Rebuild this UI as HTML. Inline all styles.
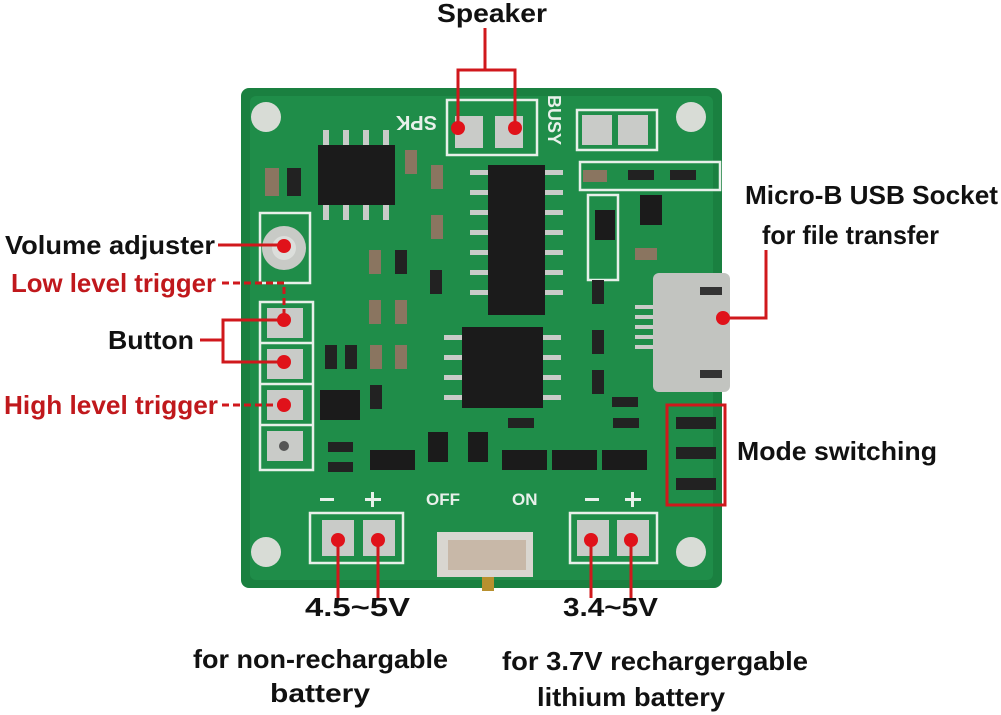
<!DOCTYPE html>
<html><head><meta charset="utf-8"><style>
html,body{margin:0;padding:0;background:#fff;}
svg{display:block;}
text{font-family:"Liberation Sans",sans-serif;font-weight:bold;}
</style></head><body>
<svg width="1001" height="715" viewBox="0 0 1001 715" xmlns="http://www.w3.org/2000/svg">
<rect width="1001" height="715" fill="#fff"/>
<!-- board -->
<rect x="241" y="88" width="481" height="500" rx="8" fill="#1a8040"/>
<rect x="250" y="96" width="463" height="484" rx="6" fill="#239650" opacity="0.6"/>
<g fill="#d8dcd6">
<circle cx="266" cy="117" r="15"/><circle cx="691" cy="117" r="15"/>
<circle cx="266" cy="552" r="15"/><circle cx="691" cy="552" r="15"/>
</g>
<g fill="none" stroke="#e8f0ea" stroke-width="2.5">
<rect x="447" y="100" width="90" height="55"/>
<rect x="577" y="110" width="80" height="40"/>
<rect x="260" y="302" width="53" height="168"/>
<line x1="260" y1="343" x2="313" y2="343"/><line x1="260" y1="384" x2="313" y2="384"/><line x1="260" y1="425" x2="313" y2="425"/>
<rect x="310" y="513" width="93" height="50"/>
<rect x="570" y="513" width="87" height="50"/>
<rect x="260" y="213" width="50" height="70"/>
<rect x="580" y="162" width="140" height="28"/>
<rect x="588" y="195" width="30" height="85"/>
</g>
<text x="373" y="130" font-size="20" fill="#e8f0ea" transform="rotate(180 405 123)">SPK</text>
<text x="543" y="110" font-size="18" fill="#e8f0ea" transform="rotate(90 553 105)">BUSY</text>
<text x="426" y="505" font-size="17" fill="#e8f0ea">OFF</text>
<text x="512" y="505" font-size="17" fill="#e8f0ea">ON</text>
<g fill="#e8f0ea"><rect x="320" y="498" width="14" height="3"/><rect x="365" y="498" width="16" height="3"/><rect x="371" y="492" width="3" height="15"/><rect x="585" y="498" width="14" height="3"/><rect x="625" y="498" width="16" height="3"/><rect x="631" y="492" width="3" height="15"/></g>
<g fill="#c9cbc8">
<rect x="455" y="116" width="28" height="32"/><rect x="495" y="116" width="28" height="32"/>
<rect x="267" y="308" width="36" height="30"/><rect x="267" y="349" width="36" height="30"/>
<rect x="267" y="390" width="36" height="30"/><rect x="267" y="431" width="36" height="30"/>
<rect x="322" y="520" width="32" height="36"/><rect x="363" y="520" width="32" height="36"/>
<rect x="577" y="520" width="32" height="36"/><rect x="617" y="520" width="32" height="36"/>
<rect x="582" y="115" width="30" height="30"/><rect x="618" y="115" width="30" height="30"/>
</g>
<circle cx="284" cy="446" r="5" fill="#555"/>
<circle cx="284" cy="248" r="22" fill="#c8cac6"/><circle cx="284" cy="248" r="12" fill="#dcdedb"/>
<g fill="#1b1b1b">
<rect x="318" y="145" width="77" height="60"/>
<rect x="488" y="165" width="57" height="150"/>
<rect x="462" y="327" width="81" height="81"/>
<rect x="320" y="390" width="40" height="30"/>
<rect x="370" y="450" width="45" height="20"/><rect x="502" y="450" width="45" height="20"/>
<rect x="552" y="450" width="45" height="20"/><rect x="602" y="450" width="45" height="20"/>
<rect x="428" y="432" width="20" height="30"/><rect x="468" y="432" width="20" height="30"/>
<rect x="595" y="210" width="20" height="30"/><rect x="640" y="195" width="22" height="30"/>
</g>
<g fill="#c9cbc8">
<rect x="323" y="130" width="6" height="15"/><rect x="343" y="130" width="6" height="15"/><rect x="363" y="130" width="6" height="15"/><rect x="383" y="130" width="6" height="15"/>
<rect x="323" y="205" width="6" height="15"/><rect x="343" y="205" width="6" height="15"/><rect x="363" y="205" width="6" height="15"/><rect x="383" y="205" width="6" height="15"/>
<rect x="470" y="170" width="18" height="5"/><rect x="470" y="190" width="18" height="5"/><rect x="470" y="210" width="18" height="5"/><rect x="470" y="230" width="18" height="5"/><rect x="470" y="250" width="18" height="5"/><rect x="470" y="270" width="18" height="5"/><rect x="470" y="290" width="18" height="5"/>
<rect x="545" y="170" width="18" height="5"/><rect x="545" y="190" width="18" height="5"/><rect x="545" y="210" width="18" height="5"/><rect x="545" y="230" width="18" height="5"/><rect x="545" y="250" width="18" height="5"/><rect x="545" y="270" width="18" height="5"/><rect x="545" y="290" width="18" height="5"/>
<rect x="444" y="335" width="18" height="5"/><rect x="444" y="355" width="18" height="5"/><rect x="444" y="375" width="18" height="5"/><rect x="444" y="395" width="18" height="5"/>
<rect x="543" y="335" width="18" height="5"/><rect x="543" y="355" width="18" height="5"/><rect x="543" y="375" width="18" height="5"/><rect x="543" y="395" width="18" height="5"/>
</g>
<g fill="#8a7560">
<rect x="265" y="168" width="14" height="28"/><rect x="405" y="150" width="12" height="24"/><rect x="431" y="165" width="12" height="24"/><rect x="431" y="215" width="12" height="24"/>
<rect x="369" y="250" width="12" height="24"/><rect x="369" y="300" width="12" height="24"/><rect x="395" y="300" width="12" height="24"/><rect x="370" y="345" width="12" height="24"/><rect x="395" y="345" width="12" height="24"/>
<rect x="635" y="248" width="22" height="12"/><rect x="583" y="170" width="24" height="12"/>
</g>
<g fill="#222">
<rect x="287" y="168" width="14" height="28"/><rect x="395" y="250" width="12" height="24"/><rect x="430" y="270" width="12" height="24"/>
<rect x="325" y="345" width="12" height="24"/><rect x="345" y="345" width="12" height="24"/><rect x="370" y="385" width="12" height="24"/>
<rect x="328" y="442" width="25" height="10"/><rect x="328" y="462" width="25" height="10"/>
<rect x="628" y="170" width="26" height="10"/><rect x="670" y="170" width="26" height="10"/>
<rect x="592" y="280" width="12" height="24"/><rect x="592" y="330" width="12" height="24"/><rect x="592" y="370" width="12" height="24"/>
<rect x="612" y="397" width="26" height="10"/><rect x="508" y="418" width="26" height="10"/><rect x="613" y="418" width="26" height="10"/>
<rect x="676" y="417" width="40" height="12"/><rect x="676" y="447" width="40" height="12"/><rect x="676" y="478" width="40" height="12"/>
</g>
<rect x="653" y="273" width="77" height="119" rx="6" fill="#c2c4c0"/>
<rect x="700" y="287" width="22" height="8" fill="#333"/><rect x="700" y="370" width="22" height="8" fill="#333"/>
<g fill="#c9cbc8"><rect x="635" y="305" width="18" height="4"/><rect x="635" y="315" width="18" height="4"/><rect x="635" y="325" width="18" height="4"/><rect x="635" y="335" width="18" height="4"/><rect x="635" y="345" width="18" height="4"/></g>
<rect x="437" y="532" width="96" height="45" fill="#d9d6d0"/>
<rect x="448" y="540" width="78" height="30" fill="#c8b8a8"/>
<rect x="482" y="577" width="12" height="14" fill="#b8902f"/>
<g stroke="#d0181c" stroke-width="3" fill="none">
<path d="M485 28 V70 M458 128 V70 H515 V128"/>
<path d="M218 245 H284"/>
<path d="M222 283 H284 V320" stroke-dasharray="7 4"/>
<path d="M200 340 H223 M284 320 H223 V362 H284"/>
<path d="M222 405 H284" stroke-dasharray="7 4"/>
<path d="M723 318 H766 V250"/>
<path d="M338 540 V598 M378 540 V598 M591 540 V598 M631 540 V598"/>
<rect x="667" y="405" width="58" height="100"/>
</g>
<g fill="#e0121a">
<circle cx="458" cy="128" r="7"/><circle cx="515" cy="128" r="7"/>
<circle cx="284" cy="246" r="7"/><circle cx="284" cy="320" r="7"/><circle cx="284" cy="362" r="7"/><circle cx="284" cy="405" r="7"/>
<circle cx="723" cy="318" r="7"/>
<circle cx="338" cy="540" r="7"/><circle cx="378" cy="540" r="7"/><circle cx="591" cy="540" r="7"/><circle cx="631" cy="540" r="7"/>
</g>
<g font-size="26" lengthAdjust="spacingAndGlyphs">
<text x="437" y="22" fill="#111" textLength="110" lengthAdjust="spacingAndGlyphs">Speaker</text>
<text x="5" y="254" fill="#111" textLength="210" lengthAdjust="spacingAndGlyphs">Volume adjuster</text>
<text x="11" y="292" fill="#c0181c" textLength="205" lengthAdjust="spacingAndGlyphs">Low level trigger</text>
<text x="108" y="349" fill="#111" textLength="86" lengthAdjust="spacingAndGlyphs">Button</text>
<text x="4" y="414" fill="#c0181c" textLength="214" lengthAdjust="spacingAndGlyphs">High level trigger</text>
<text x="745" y="204" fill="#111" textLength="253" lengthAdjust="spacingAndGlyphs">Micro-B USB Socket</text>
<text x="762" y="244" fill="#111" textLength="177" lengthAdjust="spacingAndGlyphs">for file transfer</text>
<text x="737" y="460" fill="#111" textLength="200" lengthAdjust="spacingAndGlyphs">Mode switching</text>
<text x="305" y="616" fill="#111" textLength="105" lengthAdjust="spacingAndGlyphs">4.5~5V</text>
<text x="563" y="616" fill="#111" textLength="95" lengthAdjust="spacingAndGlyphs">3.4~5V</text>
<text x="193" y="668" fill="#111" textLength="255" lengthAdjust="spacingAndGlyphs">for non-rechargable</text>
<text x="270" y="702" fill="#111" textLength="100" lengthAdjust="spacingAndGlyphs">battery</text>
<text x="502" y="670" fill="#111" textLength="306" lengthAdjust="spacingAndGlyphs">for 3.7V rechargergable</text>
<text x="537" y="706" fill="#111" textLength="188" lengthAdjust="spacingAndGlyphs">lithium battery</text>
</g>
</svg>
</body></html>
